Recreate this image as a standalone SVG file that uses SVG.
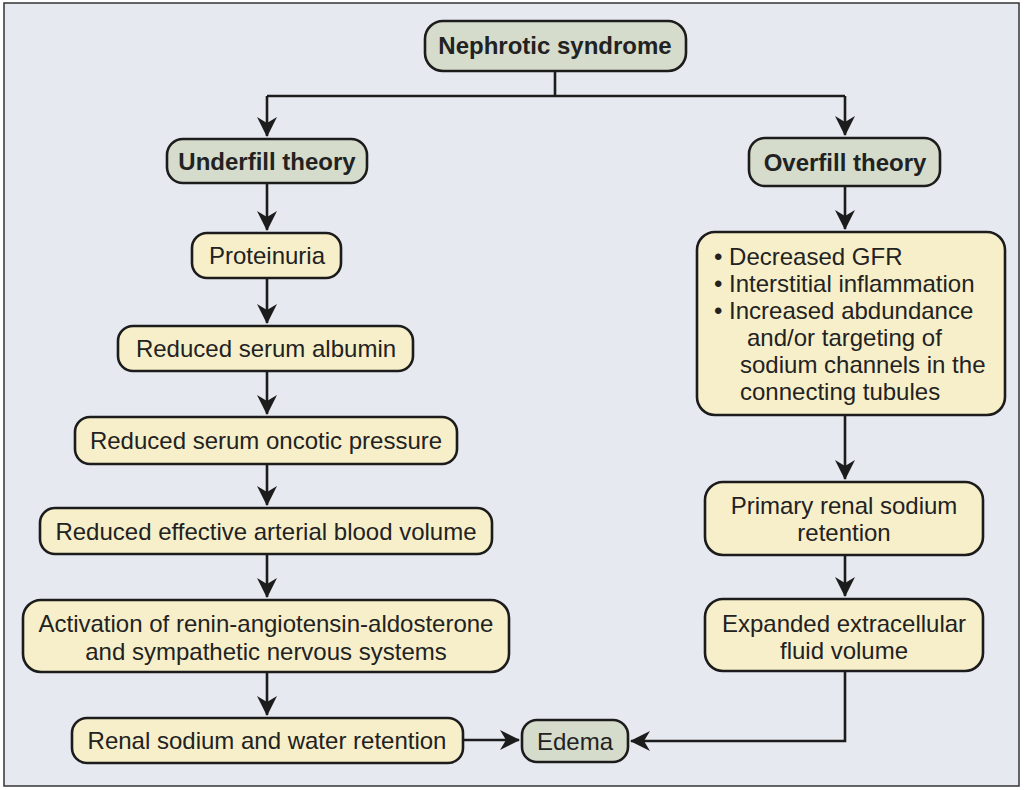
<svg xmlns="http://www.w3.org/2000/svg" width="1024" height="790" viewBox="0 0 1024 790">
<defs>
<style>
.bg{fill:#e6e9ef;stroke:#333;stroke-width:1.5}
.y{fill:#f7efc9;stroke:#1c1c1c;stroke-width:2.6}
.g{fill:#d5dccb;stroke:#1c1c1c;stroke-width:2.6}
text{font-family:"Liberation Sans",Arial,sans-serif;font-size:24px;fill:#222;text-anchor:middle}
.b{font-weight:bold}
.l{text-anchor:start}
.c{fill:none;stroke:#1c1c1c;stroke-width:2.6}
</style>
<marker id="ah" markerUnits="userSpaceOnUse" markerWidth="24" markerHeight="24" refX="0" refY="0" viewBox="-20 -12 24 24" orient="auto">
<path d="M1,0 L-19,-10 L-13,0 L-19,10 Z" fill="#1c1c1c"/>
</marker>
</defs>
<rect class="bg" x="4" y="3" width="1015" height="783"/>
<g id="connectors">
<path class="c" d="M555,71 V96 M267,96 H845"/>
<path class="c" d="M267,96 V136" marker-end="url(#ah)"/>
<path class="c" d="M845,96 V135" marker-end="url(#ah)"/>
<path class="c" d="M267,183 V230" marker-end="url(#ah)"/>
<path class="c" d="M267,278 V323" marker-end="url(#ah)"/>
<path class="c" d="M267,371 V414" marker-end="url(#ah)"/>
<path class="c" d="M267,464 V505" marker-end="url(#ah)"/>
<path class="c" d="M267,554 V597" marker-end="url(#ah)"/>
<path class="c" d="M267,672 V715" marker-end="url(#ah)"/>
<path class="c" d="M463,740 H519" marker-end="url(#ah)"/>
<path class="c" d="M845,186 V229" marker-end="url(#ah)"/>
<path class="c" d="M845,415 V479" marker-end="url(#ah)"/>
<path class="c" d="M845,555 V596" marker-end="url(#ah)"/>
<path class="c" d="M845,671 V741 H631" marker-end="url(#ah)"/>
</g>
<g id="nephrotic"><rect class="g" x="425" y="21" width="261" height="50" rx="18"/><text class="b" x="555" y="54">Nephrotic syndrome</text></g>
<g id="underfill"><rect class="g" x="167" y="139" width="200" height="44" rx="16"/><text class="b" x="267" y="170">Underfill theory</text></g>
<g id="overfill"><rect class="g" x="749" y="138" width="191" height="48" rx="16"/><text class="b" x="845" y="171">Overfill theory</text></g>
<g id="proteinuria"><rect class="y" x="192" y="233" width="149" height="45" rx="15"/><text x="267" y="264">Proteinuria</text></g>
<g id="albumin"><rect class="y" x="118" y="326" width="295" height="45" rx="15"/><text x="266" y="357">Reduced serum albumin</text></g>
<g id="oncotic"><rect class="y" x="75" y="417" width="382" height="47" rx="15"/><text x="266" y="449">Reduced serum oncotic pressure</text></g>
<g id="eabv"><rect class="y" x="40" y="508" width="452" height="46" rx="15"/><text x="266" y="540">Reduced effective arterial blood volume</text></g>
<g id="activation"><rect class="y" x="23" y="600" width="486" height="72" rx="18"/><text x="266" y="632">Activation of renin-angiotensin-aldosterone</text><text x="266" y="660">and sympathetic nervous systems</text></g>
<g id="renal"><rect class="y" x="72" y="718" width="391" height="45" rx="15"/><text x="267" y="749">Renal sodium and water retention</text></g>
<g id="edema"><rect class="g" x="522" y="720" width="106" height="42" rx="15"/><text x="575" y="750">Edema</text></g>
<g id="causes"><rect class="y" x="697" y="232" width="308" height="183" rx="18"/>
<text class="l" x="714" y="265">• Decreased GFR</text>
<text class="l" x="714" y="292">• Interstitial inflammation</text>
<text class="l" x="714" y="319">• Increased abdundance</text>
<text class="l" x="747" y="346">and/or targeting of</text>
<text class="l" x="740" y="373">sodium channels in the</text>
<text class="l" x="740" y="400">connecting tubules</text>
</g>
<g id="primary"><rect class="y" x="705" y="482" width="278" height="73" rx="18"/><text x="844" y="514">Primary renal sodium</text><text x="844" y="541">retention</text></g>
<g id="expanded"><rect class="y" x="705" y="599" width="278" height="72" rx="18"/><text x="844" y="632">Expanded extracellular</text><text x="844" y="659">fluid volume</text></g>
</svg>
